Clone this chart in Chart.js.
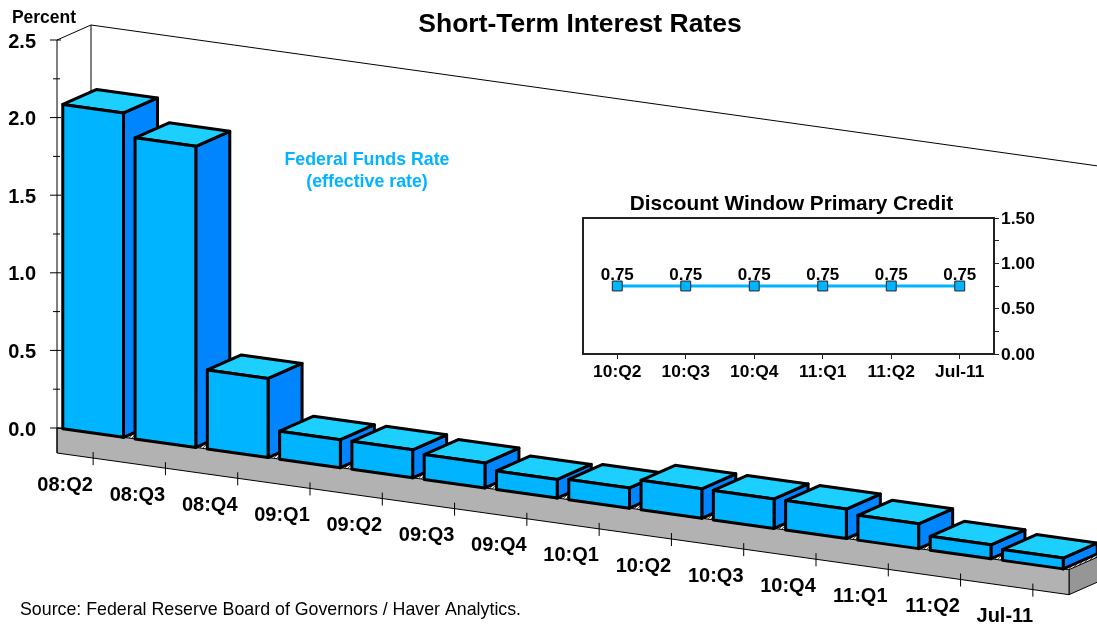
<!DOCTYPE html>
<html>
<head>
<meta charset="utf-8">
<script src="https://cdn.jsdelivr.net/npm/chart.js@4"></script>
<style>
  html, body { margin: 0; padding: 0; background: #fff; }
  #wrap { position: relative; width: 1097px; height: 625px; overflow: hidden; }
  canvas { position: absolute; left: 0; top: 0; }
</style>
</head>
<body>
<div id="wrap">
  <canvas id="main" width="1097" height="625"></canvas>
  <canvas id="inset" width="1097" height="625"></canvas>
</div>
<script>
const FONT = '"Liberation Sans", Arial, sans-serif';

const fundsCategories = ["08:Q2", "08:Q3", "08:Q4", "09:Q1", "09:Q2", "09:Q3", "09:Q4",
  "10:Q1", "10:Q2", "10:Q3", "10:Q4", "11:Q1", "11:Q2", "Jul-11"];
const fundsRates = [2.09, 1.94, 0.51, 0.18, 0.18, 0.16, 0.12, 0.13, 0.19, 0.19, 0.19, 0.16, 0.09, 0.07];

const discountCategories = ["10:Q2", "10:Q3", "10:Q4", "11:Q1", "11:Q2", "Jul-11"];
const discountRates = [0.75, 0.75, 0.75, 0.75, 0.75, 0.75];

// the 3D look: every mark is sheared down to the right and has a depth offset
const SHEAR = 0.14;
const DEPTH_X = 34;
const DEPTH_Y = -15;
const FLOOR_H = 25;

const FRONT = "#00b4ff";
const SIDE = "#0085ff";
const TOP = "#1ccfff";

function poly(ctx, pts, fill, stroke, lw) {
  ctx.beginPath();
  pts.forEach((p, i) => (i ? ctx.lineTo(p[0], p[1]) : ctx.moveTo(p[0], p[1])));
  ctx.closePath();
  if (fill) {
    ctx.fillStyle = fill;
    ctx.fill();
  }
  if (stroke) {
    ctx.strokeStyle = stroke;
    ctx.lineWidth = lw;
    ctx.lineJoin = "round";
    ctx.stroke();
  }
}

function line(ctx, x1, y1, x2, y2, lw, color) {
  ctx.beginPath();
  ctx.moveTo(x1, y1);
  ctx.lineTo(x2, y2);
  ctx.lineWidth = lw;
  ctx.strokeStyle = color || "#000";
  ctx.stroke();
}

function label(ctx, text, x, y, font, color, align) {
  ctx.font = font;
  ctx.fillStyle = color || "#000";
  ctx.textAlign = align || "center";
  ctx.textBaseline = "middle";
  ctx.fillText(text, x, y);
}

// small hatch for the top of the floor, only seen in the gaps between bars
function floorHatch(ctx) {
  const tile = document.createElement("canvas");
  tile.width = 3;
  tile.height = 3;
  const t = tile.getContext("2d");
  t.fillStyle = "#e6e6e6";
  t.fillRect(0, 0, 3, 3);
  t.fillStyle = "#555";
  t.fillRect(0, 2, 1, 1);
  t.fillRect(1, 1, 1, 1);
  t.fillRect(2, 0, 1, 1);
  return ctx.createPattern(tile, "repeat");
}

const roomPlugin = {
  id: "room",
  // wall and floor go below the bars
  beforeDatasetsDraw(chart) {
    const { ctx, chartArea: a, scales } = chart;
    const zero = scales.y.getPixelForValue(0);
    const drop = SHEAR * (a.right - a.left);
    ctx.save();

    line(ctx, a.left, a.top, a.left + DEPTH_X, a.top + DEPTH_Y, 1);
    line(ctx, a.left + DEPTH_X, a.top + DEPTH_Y, a.right + DEPTH_X, a.top + DEPTH_Y + drop, 1);
    line(ctx, a.left + DEPTH_X, a.top + DEPTH_Y, a.left + DEPTH_X, zero + DEPTH_Y, 1);

    poly(ctx, [
      [a.left, zero],
      [a.right, zero + drop],
      [a.right + DEPTH_X, zero + drop + DEPTH_Y],
      [a.left + DEPTH_X, zero + DEPTH_Y],
    ], floorHatch(ctx));
    poly(ctx, [
      [a.right, zero + drop],
      [a.right + DEPTH_X, zero + drop + DEPTH_Y],
      [a.right + DEPTH_X, zero + drop + DEPTH_Y + FLOOR_H],
      [a.right, zero + drop + FLOOR_H],
    ], "#969696", "#000", 1);
    poly(ctx, [
      [a.left, zero],
      [a.right, zero + drop],
      [a.right, zero + drop + FLOOR_H],
      [a.left, zero + FLOOR_H],
    ], "#b2b2b2", "#000", 1);

    // axis line and ticks
    line(ctx, a.left, a.top, a.left, zero + FLOOR_H, 1);
    scales.y.ticks.forEach((t) => {
      const y = scales.y.getPixelForValue(t.value);
      const major = t.label !== "";
      line(ctx, a.left - (major ? 7 : 4), y, a.left + (major ? 4 : 3), y, 1);
    });

    // category ticks and labels follow the sloped floor edge
    scales.x.ticks.forEach((t, i) => {
      const x = scales.x.getPixelForTick(i);
      const edge = zero + SHEAR * (x - a.left) + FLOOR_H;
      line(ctx, x, edge - 6, x, edge + 7, 1);
      label(ctx, scales.x.getLabelForValue(t.value), x - 28, edge + 27, "bold 20px " + FONT);
    });
    ctx.restore();
  },
  // bars are painted here, left to right, so each one covers the side of the last
  beforeDatasetDraw(chart, args) {
    const { ctx, chartArea: a } = chart;
    ctx.save();
    args.meta.data.forEach((bar) => {
      const l = bar.x - bar.width / 2;
      const r = bar.x + bar.width / 2;
      const dl = SHEAR * (l - a.left);
      const dr = SHEAR * (r - a.left);
      const h = bar.base - bar.y;
      const bl = [l, bar.base + dl];
      const br = [r, bar.base + dr];
      const tl = [l, bar.base + dl - h];
      const tr = [r, bar.base + dr - h];
      const off = (p) => [p[0] + DEPTH_X, p[1] + DEPTH_Y];
      poly(ctx, [br, tr, off(tr), off(br)], SIDE, "#000", 3);
      poly(ctx, [tl, tr, off(tr), off(tl)], TOP, "#000", 3);
      poly(ctx, [bl, br, tr, tl], FRONT, "#000", 3);
    });
    ctx.restore();
    return false;
  },
  afterDraw(chart) {
    const { ctx } = chart;
    ctx.save();
    label(ctx, "Short-Term Interest Rates", 580, 25, "bold 26.5px " + FONT);
    label(ctx, "Percent", 44, 18, "bold 17.5px " + FONT);
    label(ctx, "Federal Funds Rate", 367, 160, "bold 17.8px " + FONT, FRONT);
    label(ctx, "(effective rate)", 367, 182, "bold 17.8px " + FONT, FRONT);
    label(ctx, "Source: Federal Reserve Board of Governors / Haver Analytics.", 20, 610, "17.8px " + FONT, "#000", "left");
    ctx.restore();
  },
};

new Chart(document.getElementById("main"), {
  type: "bar",
  data: {
    labels: fundsCategories,
    datasets: [{ data: fundsRates, barPercentage: 0.84, categoryPercentage: 1 }],
  },
  options: {
    responsive: false,
    animation: false,
    layout: { padding: { left: 0, top: 40, right: 28, bottom: 197 } },
    plugins: { legend: { display: false }, tooltip: { enabled: false } },
    scales: {
      x: { display: false },
      y: {
        min: 0,
        max: 2.5,
        afterFit: (scale) => { scale.width = 57; },
        border: { display: false },
        grid: { display: false },
        ticks: {
          stepSize: 0.25,
          autoSkip: false,
          padding: 13,
          labelOffset: 2,
          color: "#000",
          font: { family: FONT, size: 20, weight: "bold" },
          callback: (v) => (v * 2 === Math.round(v * 2) ? v.toFixed(1) : ""),
        },
      },
    },
  },
  plugins: [roomPlugin],
});

const insetPlugin = {
  id: "inset",
  beforeDatasetsDraw(chart) {
    const { ctx, chartArea: a } = chart;
    ctx.save();
    ctx.beginPath();
    ctx.moveTo(a.left, a.bottom);
    ctx.lineTo(a.left, a.top);
    ctx.lineTo(a.right, a.top);
    ctx.lineWidth = 2;
    ctx.strokeStyle = "#222";
    ctx.stroke();
    ctx.restore();
  },
  afterDatasetsDraw(chart) {
    const { ctx, chartArea: a } = chart;
    const meta = chart.getDatasetMeta(0);
    ctx.save();
    meta.data.forEach((pt, i) => {
      label(ctx, discountRates[i].toFixed(2), pt.x, pt.y - 11, "bold 17px " + FONT);
    });
    label(ctx, "Discount Window Primary Credit", (a.left + a.right) / 2 + 3, a.top - 14, "bold 20.8px " + FONT);
    ctx.restore();
  },
};

new Chart(document.getElementById("inset"), {
  type: "line",
  data: {
    labels: discountCategories,
    datasets: [{
      data: discountRates,
      borderColor: FRONT,
      borderWidth: 3,
      pointStyle: "rect",
      pointRadius: 7,
      pointBackgroundColor: FRONT,
      pointBorderColor: "#222",
      pointBorderWidth: 1,
    }],
  },
  options: {
    responsive: false,
    animation: false,
    layout: { padding: { left: 583, top: 218, right: 0, bottom: 0 } },
    plugins: { legend: { display: false }, tooltip: { enabled: false } },
    scales: {
      x: {
        offset: true,
        afterFit: (scale) => { scale.height = 271; },
        border: { color: "#222", width: 2 },
        grid: { drawOnChartArea: false, tickLength: 5, tickColor: "#222", offset: false },
        ticks: {
          padding: 3,
          maxRotation: 0,
          color: "#000",
          font: { family: FONT, size: 17.4, weight: "bold" },
        },
      },
      y: {
        position: "right",
        min: 0,
        max: 1.5,
        afterFit: (scale) => { scale.width = 103; },
        border: { color: "#222", width: 2 },
        grid: { drawOnChartArea: false, tickLength: 5, tickColor: "#222" },
        ticks: {
          stepSize: 0.25,
          autoSkip: false,
          padding: 2,
          labelOffset: 1,
          color: "#000",
          font: { family: FONT, size: 17.4, weight: "bold" },
          callback: (v) => (v * 2 === Math.round(v * 2) ? v.toFixed(2) : ""),
        },
      },
    },
  },
  plugins: [insetPlugin],
});
</script>
</body>
</html>
